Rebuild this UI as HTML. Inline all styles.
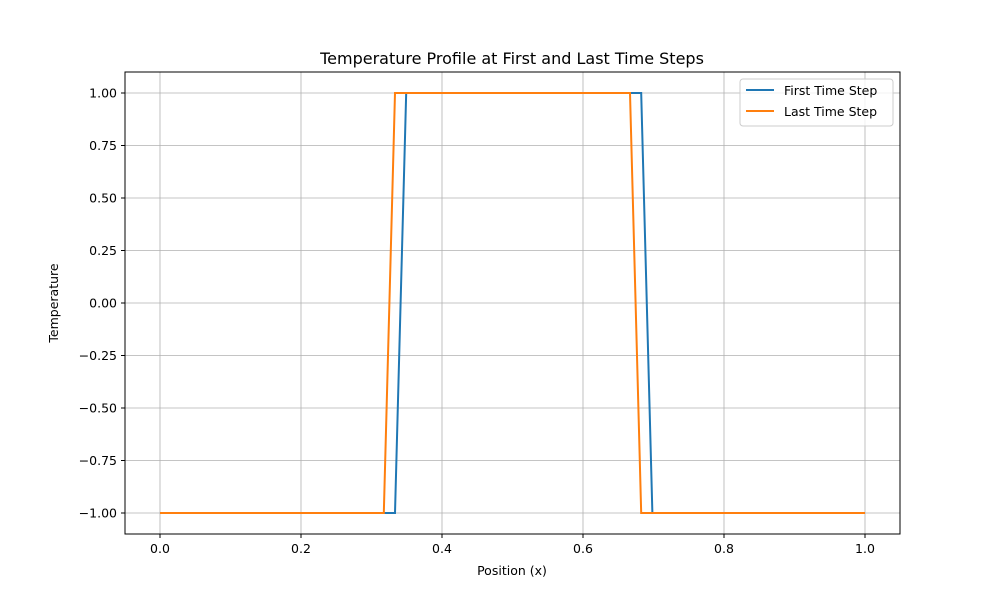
<!DOCTYPE html>
<html><head><meta charset="utf-8"><style>
body{margin:0;background:#fff;}
svg text{font-family:"DejaVu Sans","Liberation Sans",sans-serif;fill:#000;}
</style></head><body>
<svg id="chart" width="1000" height="600" xmlns="http://www.w3.org/2000/svg">
<rect width="1000" height="600" fill="#fff"/>
<g id="grid"></g>
<g id="series"></g>
<rect x="125" y="72" width="775" height="462" fill="none" stroke="#000" stroke-width="1"/>
<g id="ticks"></g>
<text x="512" y="64" font-size="16" text-anchor="middle">Temperature Profile at First and Last Time Steps</text>
<text x="512" y="575" font-size="12.5" text-anchor="middle">Position (x)</text>
<text x="58" y="303" font-size="12.5" text-anchor="middle" transform="rotate(-90 58 303)">Temperature</text>
<g>
<rect x="740" y="79" width="153" height="47" rx="3" fill="#fff" fill-opacity="0.8" stroke="#ccc"/>
<g>
<line x1="746" y1="90" x2="774" y2="90" stroke="#1f77b4" stroke-width="2"/>
<text x="784" y="95" font-size="12.5">First Time Step</text></g>
<g>
<line x1="746" y1="111" x2="774" y2="111" stroke="#ff7f0e" stroke-width="2"/>
<text x="784" y="116" font-size="12.5">Last Time Step</text></g>
</g>
</svg>
<script>
const firstX=[0,21/63,22/63,43/63,44/63,1];
const firstY=[-1,-1,1,1,-1,-1];
const lastX=[0,20/63,21/63,42/63,43/63,1];
const lastY=[-1,-1,1,1,-1,-1];
const xTicks=[0,0.2,0.4,0.6,0.8,1.0];
const xTickLabels=["0.0","0.2","0.4","0.6","0.8","1.0"];
const yTicks=[-1,-0.75,-0.5,-0.25,0,0.25,0.5,0.75,1];
const yTickLabels=["\u22121.00","\u22120.75","\u22120.50","\u22120.25","0.00","0.25","0.50","0.75","1.00"];
const sx=v=>160+v*705;
const sy=v=>303-v*210;
const NS="http://www.w3.org/2000/svg";
const grid=document.getElementById('grid'),ticks=document.getElementById('ticks'),series=document.getElementById('series');
function mk(tag,attrs,parent){const e=document.createElementNS(NS,tag);for(const k in attrs)e.setAttribute(k,attrs[k]);parent.appendChild(e);return e;}
xTicks.forEach((v,i)=>{const x=sx(v);
const g=mk('line',{x1:x,x2:x,y1:72,y2:534,stroke:'#b0b0b0','stroke-width':0.8},grid);


mk('line',{x1:x,x2:x,y1:534,y2:538,stroke:'#000'},ticks);
const t=mk('text',{x:x,y:553,'font-size':12.5,'text-anchor':'middle'},ticks);t.textContent=xTickLabels[i];

});
yTicks.forEach((v,i)=>{const y=sy(v);
const g=mk('line',{x1:125,x2:900,y1:y,y2:y,stroke:'#b0b0b0','stroke-width':0.8},grid);


mk('line',{x1:121,x2:125,y1:y,y2:y,stroke:'#000'},ticks);
const t=mk('text',{x:117,y:y+4.5,'font-size':12.5,'text-anchor':'end'},ticks);t.textContent=yTickLabels[i];

});
function line(xs,ys,color,name){const p=mk('polyline',{points:xs.map((x,i)=>sx(x)+','+sy(ys[i])).join(' '),fill:'none',stroke:color,'stroke-width':2},series);

}
line(firstX,firstY,'#1f77b4','first-time-step-line');
line(lastX,lastY,'#ff7f0e','last-time-step-line');
</script>
</body></html>
